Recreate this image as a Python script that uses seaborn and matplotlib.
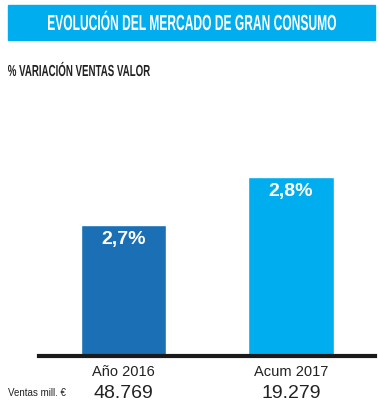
import matplotlib
matplotlib.use("Agg")
import matplotlib.pyplot as plt
import seaborn as sns
import pandas as pd
from matplotlib.patches import Rectangle, PathPatch
from matplotlib.textpath import TextPath
from matplotlib.font_manager import FontProperties
from matplotlib.transforms import Affine2D, IdentityTransform

# data
categories = ["Año 2016", "Acum 2017"]
variacion = [2.7, 2.8]
value_labels = ["2,7%", "2,8%"]
ventas = ["48.769", "19.279"]
bar_colors = ["#1a6fb5", "#00aeef"]

df = pd.DataFrame({"periodo": categories, "variacion": variacion})

sns.set_theme(style="white")
plt.rcParams["font.family"] = ["Liberation Sans", "DejaVu Sans"]

W, H = 379, 412
fig = plt.figure(figsize=(W / 100, H / 100), dpi=100)
ax = fig.add_axes([0.103, 0.136, 0.886, 0.67])

sns.barplot(data=df, x="periodo", y="variacion", hue="periodo",
            palette=bar_colors, width=0.51, legend=False, ax=ax, saturation=1)

ax.set_ylim(2.43, 3.0)
ax.set_xlim(-0.504, 1.5)
ax.set_xlabel("")
ax.set_ylabel("")
ax.set_xticks([])
ax.set_yticks([])
for s in ["top", "right", "left"]:
    ax.spines[s].set_visible(False)
ax.spines["bottom"].set_linewidth(3)
ax.spines["bottom"].set_color("#1a1a1a")

# labels inside the bars
for i, (v, lab) in enumerate(zip(variacion, value_labels)):
    ax.text(i, v - 0.012, lab, ha="center", va="top", color="white",
            fontsize=14, fontweight="bold")

# category names and sales under the axis
for i, (cat, vt) in enumerate(zip(categories, ventas)):
    ax.annotate(cat, xy=(i, 0), xycoords=("data", "axes fraction"),
                xytext=(0, -11.5), textcoords="offset points",
                ha="center", va="center", fontsize=10.5, color="#222222")
    ax.annotate(vt, xy=(i, 0), xycoords=("data", "axes fraction"),
                xytext=(0, -27), textcoords="offset points",
                ha="center", va="center", fontsize=14, color="#222222")

fig.text(8 / W, 1 - 393 / H, "Ventas mill. €", fontsize=7, va="center",
         ha="left", color="#222222")


# condensed text: no narrow font installed, so squeeze a text path
def narrow_text(s, left, right, cap_top, baseline, color):
    fp = FontProperties(family="Liberation Sans", weight="bold")
    tp = TextPath((0, 0), s, size=1, prop=fp)
    cap = TextPath((0, 0), "E", size=1, prop=fp).get_extents().height
    ext = tp.get_extents()
    sx = (right - left) / ext.width
    sy = (baseline - cap_top) / cap
    tr = (Affine2D().translate(-ext.x0, 0).scale(sx, sy)
          .translate(left, H - baseline))
    patch = PathPatch(tr.transform_path(tp), facecolor=color, edgecolor="none",
                      transform=IdentityTransform())
    fig.patches.append(patch)


# title banner
fig.patches.append(Rectangle((8 / W, 1 - 40 / H), 367 / W, 35 / H,
                             transform=fig.transFigure, color="#00aeef",
                             zorder=0))
narrow_text("EVOLUCIÓN DEL MERCADO DE GRAN CONSUMO", 48, 336, 15, 30, "white")
narrow_text("% VARIACIÓN VENTAS VALOR", 8, 150, 65, 76, "#222222")

fig.savefig("out.png", dpi=100)
